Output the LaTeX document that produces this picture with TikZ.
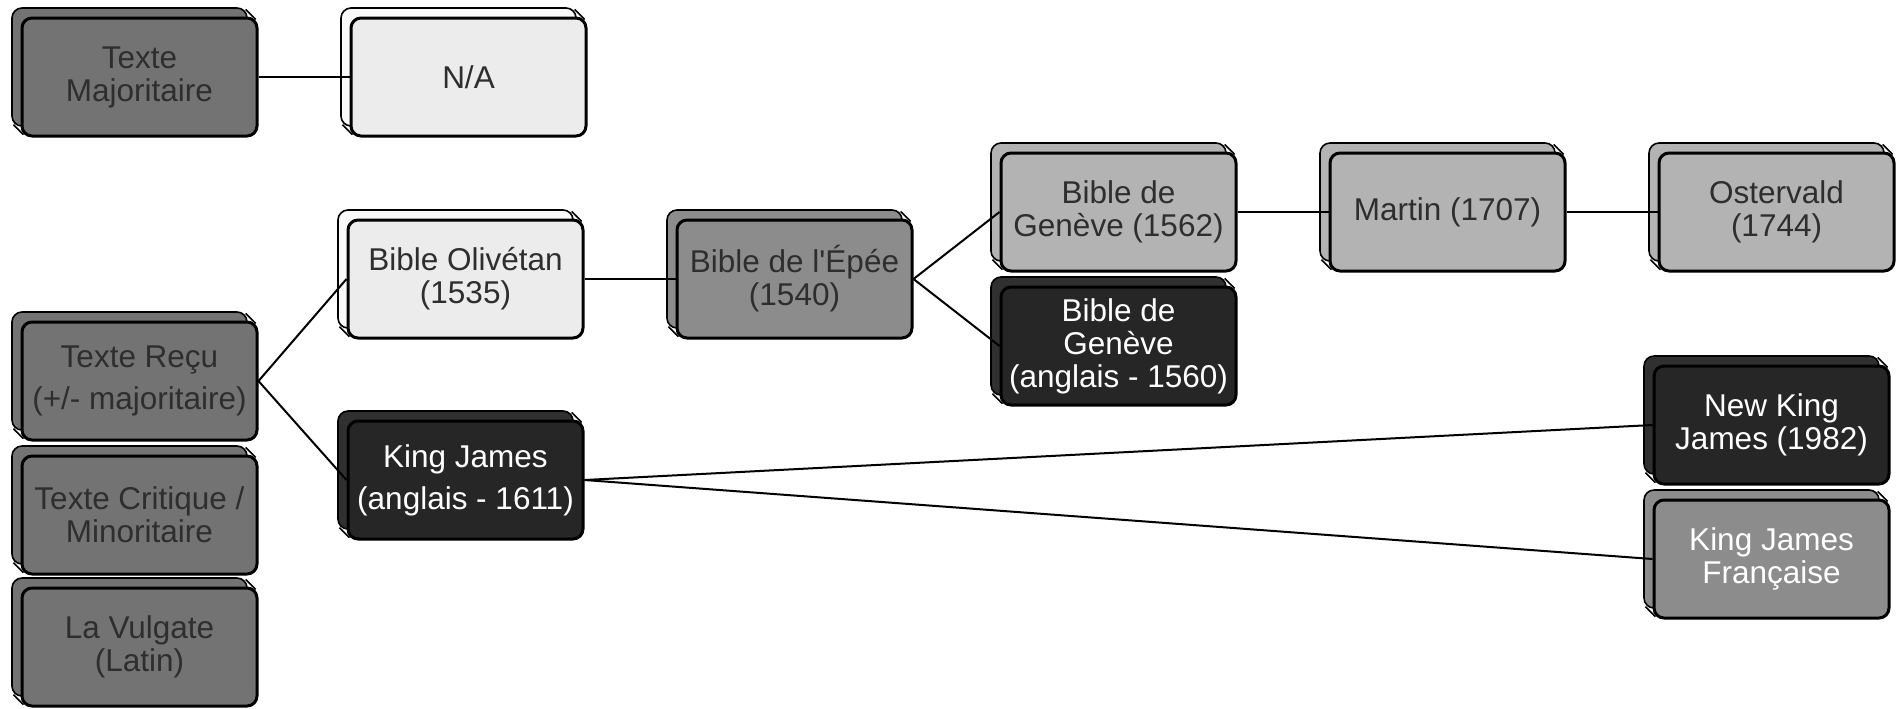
\documentclass[tikz,border=0pt]{standalone}
\usepackage{fontspec}
\setmainfont{Liberation Sans}
\usetikzlibrary{positioning,calc}
\definecolor{greyA}{HTML}{737373}
\definecolor{greyB}{HTML}{8C8C8C}
\definecolor{greyC}{HTML}{B3B3B3}
\definecolor{greyD}{HTML}{ECECEC}
\definecolor{greyE}{HTML}{262626}
\definecolor{paleback}{HTML}{F9F9F9}
\definecolor{deepback}{HTML}{303030}
\definecolor{ink}{HTML}{2E2E2E}
\tikzset{
	tree/.style={x=0.5pt,y=-0.5pt,node distance=45.5pt,line join=round},
	backline/.style={draw=black,line width=0.8pt},
	version/.style n args={3}{rectangle,rounded corners=5pt,draw=black,line width=1.5pt,
		minimum width=117.5pt,minimum height=59pt,inner sep=0pt,align=center,
		font=\fontsize{15.75}{16.5}\selectfont,fill=#1,text=#3,
		preaction={fill=#2,backline,transform canvas={shift={(-5pt,5pt)}}},
		append after command={
			($(\tikzlastnode.north east)+(-1.46pt,-1.46pt)$) edge[backline] ($(\tikzlastnode.north east)+(-6.46pt,3.54pt)$)
			($(\tikzlastnode.south west)+(1.46pt,1.46pt)$) edge[backline] ($(\tikzlastnode.south west)+(-3.54pt,6.46pt)$)}},
	majority/.style={version={greyA}{greyA}{ink}},
	pale/.style={version={greyD}{paleback}{ink}},
	mid/.style={version={greyB}{greyB}{ink}},
	soft/.style={version={greyC}{greyC}{ink}},
	deep/.style={version={greyE}{deepback}{white}},
	midwhite/.style={version={greyB}{greyB}{white}},
	link/.style={draw=black,line width=1pt}
}

\begin{document}
\begin{tikzpicture}[tree]
	\useasboundingbox (0,0) rectangle (1898,708);

	% sources
	\node[majority] (tm) at (139.5,77) {Texte\\Majoritaire};
	\node[pale] (na) [right= of tm] {N/A};
	\node[majority] (recu) at (139.5,381) {Texte Reçu\\[4.5pt](+/- majoritaire)};
	\node[majority] (crit) at (139.5,515) {Texte Critique /\\Minoritaire};
	\node[majority] (vulg) at (139.5,647) {La Vulgate\\(Latin)};

	% translations
	\node[pale] (oliv) at (465.5,279) {Bible Olivétan\\(1535)};
	\node[deep] (kj) at (465.5,480) {King James\\[4.5pt](anglais - 1611)};
	\node[mid] (epee) [right= of oliv] {Bible de l\textquotesingle Épée\\(1540)};
	\node[soft] (g62) at (1118.5,212) {Bible de\\Genève (1562)};
	\node[deep] (g60) at (1118.5,346) {Bible de\\Genève\\(anglais - 1560)};
	\node[soft] (mart) [right= of g62] {Martin (1707)};
	\node[soft] (oste) [right= of mart] {Ostervald\\(1744)};
	\node[deep] (nkj) at (1771.5,425) {New King\\James (1982)};
	\node[midwhite] (kjf) at (1771.5,559) {King James\\Française};

	\path[link] (tm) edge (na);
	\path[link] (recu.east) edge (oliv.west);
	\path[link] (recu.east) edge (kj.west);
	\path[link] (oliv) edge (epee);
	\path[link] (epee.east) edge (g62.west);
	\path[link] (epee.east) edge (g60.west);
	\path[link] (g62) edge (mart);
	\path[link] (mart) edge (oste);
	\path[link] (kj.east) edge (nkj.west);
	\path[link] (kj.east) edge (kjf.west);
\end{tikzpicture}
\end{document}
